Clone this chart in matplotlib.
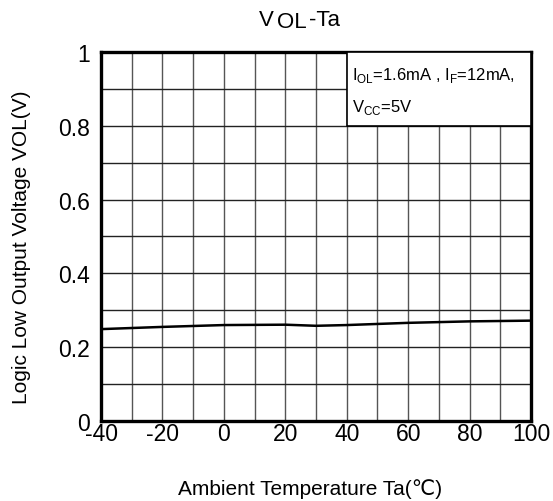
import numpy as np
import matplotlib.pyplot as plt
from matplotlib.ticker import MultipleLocator

plt.rcParams['font.family'] = ['Liberation Sans', 'DejaVu Sans']
plt.rcParams['mathtext.fontset'] = 'custom'
plt.rcParams['mathtext.rm'] = 'Liberation Sans'
plt.rcParams['axes.unicode_minus'] = False

# VOL vs ambient temperature
temp = [-40, -20, 0, 20, 30, 40, 60, 80, 100]
vol = [0.249, 0.255, 0.260, 0.261, 0.258, 0.260, 0.266, 0.270, 0.272]

x_ticks = [-40, -20, 0, 20, 40, 60, 80, 100]
y_ticks = [0, 0.2, 0.4, 0.6, 0.8, 1]
y_tick_labels = ["0", "0.2", "0.4", "0.6", "0.8", "1"]

W, H = 553, 502
fig = plt.figure(figsize=(W / 100, H / 100), dpi=100)
ax = fig.add_axes([101 / W, 1 - 422 / H, 430 / W, 369 / H])

ax.plot(temp, vol, color="black", linewidth=1.8, zorder=3)

ax.set_xlim(-40, 100)
ax.set_ylim(0, 1)
ax.set_xticks(x_ticks)
ax.set_yticks(y_ticks)
ax.set_yticklabels(y_tick_labels)
ax.xaxis.set_minor_locator(MultipleLocator(10))
ax.yaxis.set_minor_locator(MultipleLocator(0.1))
ax.tick_params(which="both", length=0, labelsize=16.5)
ax.tick_params(axis="y", pad=8)
ax.tick_params(axis="x", pad=1)

# grid
ax.grid(True, which="both", axis="x", color="#555555", linewidth=1.0)
ax.grid(True, which="both", axis="y", color="#222222", linewidth=1.0)
ax.set_axisbelow(True)
for s in ax.spines.values():
    s.set_linewidth(2.4)

# condition box
ax.fill_between([40, 100], 0.8, 1.0, facecolor="white", edgecolor="black",
                linewidth=1.2, zorder=4)
ax.text(41.7, 0.927, r"I$_{\mathregular{OL}}$=1.6mA , I$_{\mathregular{F}}$=12mA,",
        fontsize=12, va="baseline", ha="left", zorder=5)
ax.text(41.7, 0.84, r"V$_{\mathregular{CC}}$=5V",
        fontsize=12, va="baseline", ha="left", zorder=5)

# title with lowered OL
fig.text(259 / W, 1 - 20 / H, "V", fontsize=16, ha="left", va="center")
fig.text(277 / W, 1 - 23 / H, "OL", fontsize=16, ha="left", va="center")
fig.text(309 / W, 1 - 20 / H, "-Ta", fontsize=16, ha="left", va="center")

fig.text(310 / W, 1 - 489 / H, "Ambient Temperature Ta(\u2103)", fontsize=15,
         ha="center", va="center")
fig.text(22 / W, 1 - 247 / H, "Logic Low Output Voltage VOL(V)", fontsize=15,
         ha="center", va="center", rotation=90)

fig.savefig("out.png", dpi=100)
